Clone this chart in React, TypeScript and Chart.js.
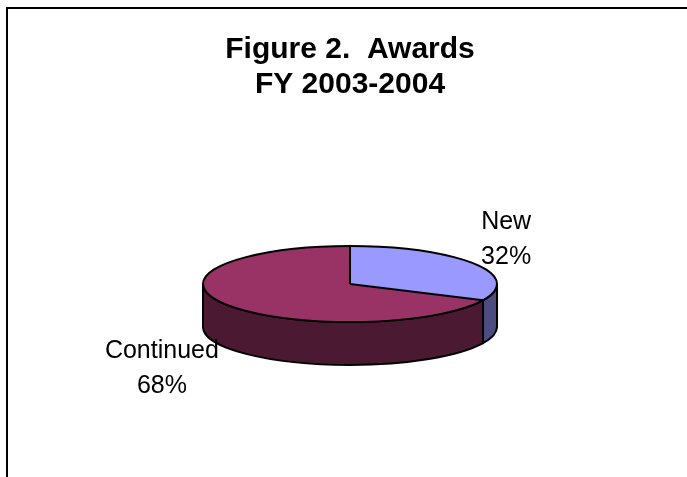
import React, { useEffect, useRef } from 'react';
import { Chart, registerables } from 'chart.js';

Chart.register(...registerables);

const titleLines = ['Figure 2.  Awards', 'FY 2003-2004'];
const categories = ['New', 'Continued'];
const values = [32, 68];
const percentLabels = ['32%', '68%'];
const topColors = ['#9999FF', '#993366'];
const sideColors = ['#4C4C80', '#4C1933'];

const TILT = 38 / 147;
const DEPTH = 43 / 147;
const FONT = "'Liberation Sans', Arial, Helvetica, sans-serif";

const pie3d = {
  id: 'pie3d',
  beforeDraw(chart: any) {
    const ctx = chart.ctx;
    ctx.save();
    ctx.fillStyle = '#ffffff';
    ctx.fillRect(0, 0, chart.width, chart.height);
    ctx.strokeStyle = '#000000';
    ctx.lineWidth = 2;
    ctx.strokeRect(7, 8, chart.width + 50, chart.height + 50);
    ctx.restore();
  },
  beforeDatasetsDraw(chart: any) {
    const ctx = chart.ctx;
    const arcs = chart.getDatasetMeta(0).data;
    if (!arcs.length) return;
    const { x, y, outerRadius: r } = arcs[0];
    const ry = r * TILT;
    const d = r * DEPTH;
    ctx.save();
    ctx.lineWidth = 2;
    ctx.strokeStyle = '#000';
    ctx.lineJoin = 'round';
    arcs.forEach((arc: any, i: number) => {
      const s = arc.startAngle;
      const e = arc.endAngle;
      for (const k of [-2 * Math.PI, 0, 2 * Math.PI]) {
        const a = Math.max(s, k);
        const b = Math.min(e, k + Math.PI);
        if (b > a) {
          ctx.beginPath();
          ctx.ellipse(x, y, r, ry, 0, a, b, false);
          ctx.lineTo(x + r * Math.cos(b), y + ry * Math.sin(b) + d);
          ctx.ellipse(x, y + d, r, ry, 0, b, a, true);
          ctx.closePath();
          ctx.fillStyle = sideColors[i];
          ctx.fill();
          ctx.stroke();
        }
      }
    });
    ctx.restore();
    ctx.save();
    ctx.translate(0, y);
    ctx.scale(1, TILT);
    ctx.translate(0, -y);
  },
  afterDatasetsDraw(chart: any) {
    const ctx = chart.ctx;
    const arcs = chart.getDatasetMeta(0).data;
    if (!arcs.length) return;
    ctx.restore();
    const { x, y, outerRadius: r } = arcs[0];
    const ry = r * TILT;
    const d = r * DEPTH;
    ctx.save();
    ctx.lineWidth = 2;
    ctx.strokeStyle = '#000';
    ctx.lineJoin = 'round';
    ctx.beginPath();
    ctx.ellipse(x, y, r, ry, 0, 0, Math.PI * 2);
    ctx.stroke();
    arcs.forEach((arc: any) => {
      const s = arc.startAngle;
      ctx.beginPath();
      ctx.moveTo(x, y);
      ctx.lineTo(x + r * Math.cos(s), y + ry * Math.sin(s));
      ctx.stroke();
    });
    // labels
    ctx.fillStyle = '#000';
    ctx.font = `25px ${FONT}`;
    ctx.textAlign = 'center';
    ctx.textBaseline = 'alphabetic';
    const lh = 34.5;
    arcs.forEach((arc: any, i: number) => {
      const m = (arc.startAngle + arc.endAngle) / 2;
      const px = x + r * Math.cos(m);
      const py = y + ry * Math.sin(m);
      const lines = [categories[i], percentLabels[i]];
      const w = Math.max(...lines.map((t) => ctx.measureText(t).width));
      const cxText = Math.cos(m) >= 0 ? px + 7 + w / 2 : px - 7 - w / 2;
      let firstBase: number;
      if (Math.sin(m) < 0) {
        firstBase = py - lh;
      } else {
        firstBase = py + d + 11;
      }
      lines.forEach((t, j) => ctx.fillText(t, cxText, firstBase + j * lh));
    });
    ctx.restore();
  },
};

export default function App() {
  const ref = useRef<HTMLCanvasElement>(null);
  useEffect(() => {
    if (!ref.current) return;
    const chart = new Chart(ref.current, {
      type: 'pie',
      data: {
        labels: categories,
        datasets: [
          {
            data: values,
            backgroundColor: topColors,
            borderWidth: 0,
            hoverBorderWidth: 0,
            offset: 0,
            hoverOffset: 0,
            clip: false,
          } as any,
        ],
      },
      options: {
        responsive: false,
        animation: false,
        events: [],
        layout: { padding: { top: 0, left: 203, right: 190, bottom: 46 } },
        plugins: {
          legend: { display: false },
          tooltip: { enabled: false },
          title: {
            display: true,
            text: titleLines,
            color: '#000',
            font: { family: FONT, size: 30, weight: 'bold', lineHeight: 1.18 },
            padding: { top: 32, bottom: 34.2 },
          },
        },
      } as any,
      plugins: [pie3d],
    });
    return () => chart.destroy();
  }, []);
  return (
    <div style={{ position: 'fixed', left: 0, top: 0, width: 687, height: 477 }}>
      <canvas ref={ref} width={687} height={477} style={{ display: 'block' }} />
    </div>
  );
}
